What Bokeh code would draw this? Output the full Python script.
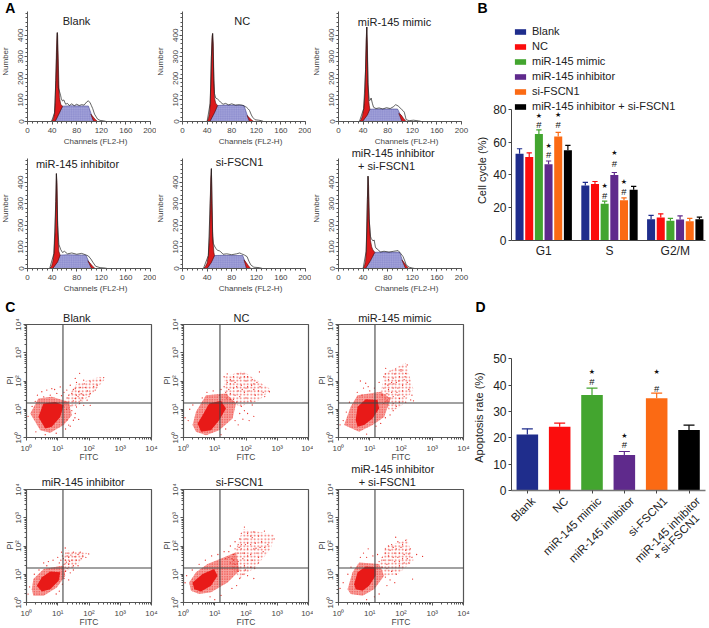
import math
from bokeh.plotting import figure
from bokeh.layouts import row, column
from bokeh.models import Label, Span, FixedTicker, Legend, LegendItem, Range1d
from bokeh.core.properties import value
from bokeh.embed import file_html
from bokeh.resources import INLINE

FONT = "Liberation Sans"
RED = "#dc1a1c"

# ---------- Panel A: (channel, count) outlines ----------
blank_g1 = [(39,0),(42,12),(44,40),(45,90),(46,190),(47,320),(48,405),(48.5,412),(49,400),(50,290),(51,170),(52,110),(54,80),(57,71),(52,40),(45,0)]
blank_s = [(45,0),(50,32),(57,71),(70,73),(85,72),(99,72),(103,40),(107.6,0)]
blank_g2 = [(103,34),(106,24),(110,10),(114,0),(107.6,0)]
blank_raw = [(39,0),(44,40),(46,190),(48.5,412),(50,157),(52,140),(54,119),(55,105),(57,95),(59,100),(62,80),(65,84),(68,74),(72,82),(76,73),(80,80),(84,74),(88,78),(92,76),(96,90),(99,96),(102,86),(104,73),(106,60),(109,34),(112,20),(114,11),(118,5),(124,3),(128,0)]

nc_g1 = [(40,0),(42,12),(44,40),(45,85),(46,170),(47,300),(48,395),(49,408),(50,360),(51,200),(52,110),(54,85),(57,74),(52,40),(44.5,0)]
nc_s = [(44.5,0),(50,34),(57,74),(70,76),(85,75),(100,74),(104,40),(109,0)]
nc_g2 = [(105,28),(108,20),(112,8),(116,0),(109,0)]
nc_raw = [(40,0),(45,85),(47,300),(49,408),(51,190),(52,130),(54,109),(57,104),(60,96),(62,89),(66,80),(70,84),(75,77),(80,82),(86,76),(92,78),(97,76),(100,72),(104,66),(107,58),(109,51),(112,30),(114,20),(118,8),(124,6),(128,4),(132,0)]

mimic_g1 = [(34,0),(37,10),(39,28),(41,60),(43,130),(44,240),(45,380),(46,438),(47,350),(48,180),(49,100),(50,75),(51,57),(47,30),(39,0)]
mimic_s = [(39,0),(45,28),(51,57),(65,58),(80,58),(96,58),(101,30),(107,0)]
mimic_g2 = [(98,38),(102,30),(106,14),(110,0),(103,0)]
mimic_raw = [(34,0),(41,60),(44,240),(46,438),(48,170),(50,97),(52,100),(53,109),(55,85),(57,66),(61,60),(66,63),(72,58),(78,64),(84,60),(89,68),(93,78),(97,72),(102,58),(105,50),(107,43),(109,20),(110,8),(115,4),(122,6),(130,3),(135,0)]

inhib_g1 = [(36,0),(39,10),(41,30),(43,70),(45,170),(46,310),(47,440),(48,400),(49,220),(50,120),(51,80),(53,62),(49,30),(41,0)]
inhib_s = [(41,0),(47,30),(53,62),(65,64),(80,63),(95,62),(100,30),(106,0)]
inhib_g2 = [(98,36),(102,24),(106,10),(110,0),(104,0)]
inhib_raw = [(36,0),(43,70),(46,310),(47,440),(49,200),(51,112),(54,88),(57,74),(60,80),(65,68),(72,72),(80,66),(88,70),(94,64),(99,58),(103,44),(107,26),(111,10),(118,4),(126,2),(130,0)]

sifscn_g1 = [(34,0),(37,8),(40,25),(42,60),(44,150),(45,300),(46,420),(47,463),(48,300),(49,170),(50,110),(51,75),(52,60),(47,28),(40,0)]
sifscn_s = [(40,0),(46,30),(52,60),(65,61),(80,60),(98,60),(102,30),(107,0)]
sifscn_g2 = [(100,40),(103,30),(107,14),(111,0),(104,0)]
sifscn_raw = [(34,0),(42,60),(45,300),(47,463),(49,150),(50,117),(52,104),(54,94),(57,84),(60,82),(62,78),(66,66),(72,68),(80,64),(88,68),(93,72),(96,68),(101,62),(105,55),(108,34),(111,17),(116,6),(125,4),(130,0)]

combo_g1 = [(40,0),(42,10),(44,35),(45,80),(46,170),(47,320),(48,428),(49,380),(50,230),(52,130),(54,100),(56,86),(59,75),(52,36),(44,0)]
combo_s = [(44,0),(50,34),(59,75),(72,76),(85,75),(99.5,75),(104,38),(110,0)]
combo_g2 = [(103,40),(106,30),(110,14),(114,0),(109,0)]
combo_raw = [(40,0),(45,80),(47,320),(48,428),(50,220),(52,150),(53,140),(56,128),(58,132),(60,100),(61,94),(65,86),(68,76),(74,80),(82,76),(90,80),(97,83),(101,70),(105,55),(108,34),(110,17),(115,6),(120,2),(124,0)]

# ---------- Panel B values ----------
phases = ["G1", "S", "G2/M"]
groups = ["Blank", "NC", "miR-145 mimic", "miR-145 inhibitor", "si-FSCN1", "miR-145 inhibitor + si-FSCN1"]
colors = ["#1f2d8c", "#fb0d0d", "#43a52f", "#5f2a8c", "#fb6a14", "#000000"]
cc_blank = [53.0, 33.5, 13.0]
cc_nc = [51.0, 34.5, 14.0]
cc_mimic = [65.0, 22.5, 12.0]
cc_inhib = [46.5, 40.0, 12.8]
cc_si = [63.5, 24.5, 11.8]
cc_combo = [55.0, 31.0, 13.0]
cc_blank_err = [56.0, 35.5, 15.3]
cc_nc_err = [53.5, 36.0, 16.3]
cc_mimic_err = [67.5, 24.0, 13.5]
cc_inhib_err = [48.5, 41.5, 15.0]
cc_si_err = [66.0, 26.0, 13.5]
cc_combo_err = [58.0, 33.0, 14.3]
# (phase, series, height of star, height of hash)
cc_marks = [(0,2,75.9,70.7),(0,3,57.7,52.6),(0,4,76.3,70.9),(1,2,33.1,27.2),(1,3,53.2,46.9),(1,4,35.9,29.6)]

# ---------- Panel D values ----------
apo_labels = ["Blank", "NC", "miR-145 mimic", "miR-145 inhibitor", "si-FSCN1", "miR-145 inhibitor\n+ si-FSCN1"]
apo_vals = [21.3, 24.2, 36.3, 13.5, 35.0, 23.0]
apo_err = [23.4, 25.6, 38.9, 14.8, 37.0, 24.8]
apo_marks = [(2,45.0,41.3),(3,20.8,17.3),(4,45.0,38.9)]

# ---------- Panel C: log10 decades; dense core, halo, arm and sparse events (x*100, y*100) ----------
c1_core = [(38,73),(54,120),(92,126),(119,114),(108,73),(81,38),(60,32)]
c1_halo = [(12,85),(38,138),(81,144),(135,126),(145,79),(119,44),(76,17),(44,26)]
c1_arm = [(120,125),(160,190),(235,215),(250,205),(215,160),(165,115),(130,100)]
c1_pts = [(247,212),(170,227),(156,209),(183,203),(204,197),(236,203),(226,185),(172,177),(188,177),(156,173),(140,185),(129,168),(145,156),(167,162),(183,150),(204,156),(220,168),(194,132),(174,132),(156,138),(204,114),(183,114),(160,108),(156,85),(167,64),(150,61),(135,44),(49,162),(65,168),(81,173),(55,144),(76,150),(97,156),(108,179),(35,150),(120,160),(150,130),(165,145),(175,155),(195,165),(215,180),(135,150),(150,170),(185,190),(160,195),(130,140),(170,120),(145,95),(155,70),(130,62),(125,30),(95,15),(60,10),(30,20),(5,75),(18,110),(28,128),(140,40),(112,148),(90,170),(200,145),(160,150),(178,140),(142,112),(128,100)]

c2_core = [(45,50),(61,79),(82,120),(120,130),(136,103),(114,61),(88,26),(56,20)]
c2_halo = [(29,44),(40,91),(72,150),(136,156),(168,120),(157,67),(114,26),(72,8),(40,20)]
c2_arm = [(130,140),(130,215),(190,235),(280,170),(240,130),(180,110)]
c2_pts = [(195,215),(243,232),(275,162),(225,190),(150,205),(140,225),(160,215),(180,210),(200,200),(220,205),(150,190),(165,195),(185,185),(205,180),(225,170),(245,180),(130,180),(145,170),(160,175),(175,165),(195,160),(210,165),(230,150),(255,160),(235,195),(175,225),(130,215),(150,155),(165,150),(180,145),(200,140),(215,130),(170,125),(185,110),(195,95),(180,85),(165,60),(175,45),(205,85),(225,75),(115,150),(95,165),(75,160),(60,140),(20,100),(5,70),(15,60),(30,115),(120,10),(135,30),(190,65),(210,60),(140,195),(190,225),(205,215),(240,165),(260,145),(160,135),(150,135),(120,170),(135,160),(220,115),(188,170),(170,180),(155,200),(200,175),(218,185)]

c3_core = [(55,62),(61,109),(87,135),(125,133),(130,103),(109,67),(82,44),(61,38)]
c3_halo = [(18,44),(39,109),(61,150),(135,162),(167,138),(146,73),(109,44),(66,20)]
c3_arm = [(135,150),(145,225),(215,265),(240,170),(200,110),(165,90)]
c3_pts = [(220,257),(215,227),(151,245),(165,235),(180,225),(200,235),(195,215),(210,205),(175,210),(160,205),(145,215),(130,195),(150,190),(165,190),(185,195),(205,185),(220,195),(190,175),(175,175),(160,170),(145,175),(155,155),(170,160),(205,165),(225,170),(235,150),(210,145),(190,150),(175,145),(165,140),(231,133),(215,125),(195,125),(185,110),(175,95),(165,80),(150,70),(135,50),(87,192),(80,175),(95,180),(70,200),(100,165),(115,175),(75,150),(60,160),(5,45),(15,60),(25,90),(35,125),(120,40),(90,12),(175,120),(155,130),(140,150),(200,240),(183,243),(170,195),(193,200),(213,215),(150,225),(187,160),(158,185),(240,130),(145,120),(195,138),(177,190)]

c4_core = [(33,59),(49,89),(76,110),(108,107),(103,77),(76,47),(49,39)]
c4_halo = [(17,47),(22,83),(55,119),(119,131),(124,95),(97,53),(55,24),(22,24)]
c4_arm = [(115,125),(125,185),(195,175),(160,130),(125,110)]
c4_pts = [(199,172),(124,193),(150,178),(165,170),(180,165),(130,175),(115,165),(135,160),(145,150),(160,150),(175,155),(190,160),(125,150),(110,150),(100,160),(85,150),(70,145),(120,135),(135,135),(150,130),(165,130),(130,120),(150,115),(125,110),(140,105),(120,85),(135,80),(115,65),(105,40),(95,30),(55,140),(65,130),(40,115),(25,100),(10,55),(5,30),(130,165),(155,162),(172,178),(142,168),(112,178),(105,140),(128,143),(118,155),(138,146)]

c5_core = [(29,71),(61,101),(98,119),(109,95),(88,59),(56,39),(34,47)]
c5_halo = [(18,71),(40,107),(77,136),(130,160),(168,178),(179,113),(141,71),(88,36),(50,30),(24,42)]
c5_arm = [(150,130),(190,260),(290,240),(280,190),(230,125),(180,85)]
c5_pts = [(259,253),(195,267),(185,245),(205,245),(225,250),(240,235),(220,230),(200,225),(180,225),(165,215),(185,205),(205,210),(230,210),(250,215),(270,205),(290,225),(245,195),(225,190),(205,190),(185,190),(165,190),(150,200),(145,180),(160,170),(175,175),(195,175),(215,170),(235,175),(255,180),(205,150),(190,155),(220,150),(240,160),(175,145),(165,135),(195,130),(215,125),(190,100),(205,95),(225,85),(180,85),(170,60),(155,50),(120,25),(100,10),(85,20),(5,70),(10,95),(28,115),(50,135),(70,150),(90,165),(110,170),(130,180),(145,160),(160,150),(178,195),(198,205),(215,205),(232,192),(260,195),(215,235),(175,205),(155,155),(190,175),(205,165),(150,140),(135,155),(240,140),(228,120),(175,110),(198,115)]

c6_core = [(50,65),(61,107),(87,127),(119,125),(119,95),(98,59),(77,42),(55,47)]
c6_halo = [(29,47),(45,107),(66,142),(130,136),(146,95),(114,47),(77,24),(39,30)]
c6_arm = [(130,130),(150,195),(220,225),(240,150),(190,100),(145,95)]
c6_pts = [(183,231),(215,220),(269,163),(237,83),(190,215),(170,205),(150,190),(165,185),(185,190),(200,195),(215,185),(230,190),(180,175),(195,175),(210,170),(225,172),(160,165),(175,160),(190,160),(205,155),(220,155),(235,160),(250,170),(165,150),(180,145),(195,145),(210,140),(225,140),(145,150),(130,145),(150,175),(95,190),(80,175),(90,160),(70,160),(110,165),(125,170),(155,120),(170,110),(185,100),(150,90),(165,80),(180,70),(155,60),(130,30),(115,20),(90,10),(5,50),(15,70),(30,100),(40,125),(140,160),(160,200),(205,205),(175,195),(195,130),(155,135),(140,125)]

decade_ticks = [1, 10, 100, 1000, 10000]
decade_labels = {1: "10⁰", 10: "10¹", 100: "10²", 1000: "10³", 10000: "10⁴"}
minor_log = [m * d for d in [1, 10, 100, 1000] for m in range(2, 10)]

# Text layer: a transparent figure over the page, whose scale is the page itself.
over = figure(width=709, height=628, x_range=Range1d(0, 709), y_range=Range1d(628, 0), output_backend="svg",
              toolbar_location=None, min_border=0, background_fill_color=None, border_fill_color=None,
              x_axis_location=None, y_axis_location=None)
over.grid.visible = False
over.outline_line_color = None


def put(px, py, text, size="11px", bold=False, color="#222222", angle=0, align="center"):
    over.add_layout(Label(x=px, y=py, text=text, text_font=FONT, text_font_size=size, text_align=align,
                          text_baseline="middle", text_color=color,
                          text_font_style="bold" if bold else "normal", angle=angle))


def base_fig(w, h, l, r, t, b, xr, yr, **kw):
    p = figure(width=w, height=h, x_range=xr, y_range=yr, output_backend="svg", toolbar_location=None,
               min_border_left=l, min_border_right=r, min_border_top=t, min_border_bottom=b,
               background_fill_color=None, border_fill_color=None, **kw)
    p.grid.visible = False
    p.outline_line_color = None
    return p


def hist(w, h, l, r, t, b, g1, s, g2, raw, frame_left, page_bottom, titles):
    p = base_fig(w, h, l, r, t, b, Range1d(0, 200), Range1d(0, 510))
    xs = lambda pts: [q[0] for q in pts]
    ys = lambda pts: [q[1] for q in pts]
    p.patch(xs(s), ys(s), fill_color="#a4a4da", line_color="#303080", line_width=0.5,
            hatch_pattern="cross", hatch_color="#5a5ab4", hatch_scale=1.8, hatch_weight=0.4)
    p.patch(xs(g1), ys(g1), fill_color=RED, line_color="#4a0c0c", line_width=0.6)
    p.patch(xs(g2), ys(g2), fill_color=RED, line_color="#4a0c0c", line_width=0.5)
    p.line(xs(raw), ys(raw), line_color="#222222", line_width=0.7)
    ax, ay = p.xaxis[0], p.yaxis[0]
    ax.ticker = FixedTicker(ticks=[0, 40, 80, 120, 160, 200], minor_ticks=list(range(0, 201, 8)))
    ay.ticker = FixedTicker(ticks=[0, 100, 200, 300, 400], minor_ticks=list(range(0, 501, 20)))
    ay.major_label_orientation = "vertical"
    for a in (ax, ay):
        a.axis_line_color = "#555555"
        a.major_tick_line_color = "#555555"
        a.minor_tick_line_color = "#555555"
        a.major_tick_out = 3
        a.major_tick_in = 0
        a.minor_tick_out = 2
        a.minor_tick_in = 0
        a.major_label_text_font = FONT
        a.major_label_text_font_size = "8px"
        a.major_label_text_color = "#444444"
        a.major_label_standoff = 1
    ax.major_label_standoff = 3
    put(frame_left + 68, page_bottom + 19.5, "Channels (FL2-H)", size="8px", color="#444444")
    put(frame_left - 22, page_bottom - 60, "Number", size="8px", color="#444444", angle=math.pi / 2)
    for (px, py, txt) in titles:
        put(px, py, txt)
    return p


def flow(w, h, l, r, t, b, core, halo, arm, pts, cross, frame_left, page_bottom, titles):
    p = base_fig(w, h, l, r, t, b, Range1d(1, 10000), Range1d(1, 10000), x_axis_type="log", y_axis_type="log")
    d = lambda seq, i: [10 ** (q[i] / 100) for q in seq]
    p.patch(d(arm, 0), d(arm, 1), fill_color=None, line_color=None,
            hatch_pattern="dot", hatch_color="#f0443c", hatch_scale=3.5, hatch_weight=0.8, hatch_alpha=0.8)
    p.patch(d(halo, 0), d(halo, 1), fill_color="#ee3028", fill_alpha=0.45, line_color=None,
            hatch_pattern="dot", hatch_color="#ee2a24", hatch_scale=2.5, hatch_weight=0.9)
    p.patch(d(core, 0), d(core, 1), fill_color="#e81a18", line_color=None)
    p.scatter(d(pts, 0), d(pts, 1), size=1.3, color="#e8332c", line_color=None)
    p.add_layout(Span(location=10 ** cross[0], dimension="height", line_color="#444444", line_width=1.1))
    p.add_layout(Span(location=10 ** cross[1], dimension="width", line_color="#444444", line_width=1.1))
    p.outline_line_color = "#555555"
    p.outline_line_width = 1.2
    ax, ay = p.xaxis[0], p.yaxis[0]
    ay.major_label_orientation = "vertical"
    for a in (ax, ay):
        a.ticker = FixedTicker(ticks=decade_ticks, minor_ticks=minor_log)
        a.major_label_overrides = decade_labels
        a.axis_line_color = "#555555"
        a.major_tick_line_color = "#555555"
        a.minor_tick_line_color = "#555555"
        a.major_tick_out = 3
        a.major_tick_in = 0
        a.minor_tick_out = 2
        a.minor_tick_in = 0
        a.major_label_text_font = FONT
        a.major_label_text_font_size = "8px"
        a.major_label_text_color = "#444444"
        a.major_label_standoff = 1
    ax.major_label_standoff = 3
    put(frame_left + 62.5, page_bottom + 19.7, "FITC", size="8.5px", color="#444444")
    put(frame_left - 16.7, page_bottom - 57, "PI", size="8.5px", color="#444444", angle=math.pi / 2)
    for (px, py, txt) in titles:
        put(px, py, txt)
    return p


a1 = hist(156, 146, 27, 6, 11, 25, blank_g1, blank_s, blank_g2, blank_raw, 27, 121, [(76, 20.7, "Blank")])
a2 = hist(155, 146, 26, 6, 11, 25, nc_g1, nc_s, nc_g2, nc_raw, 182, 121, [(241.7, 20.7, "NC")])
a3 = hist(159, 146, 27, 9, 11, 25, mimic_g1, mimic_s, mimic_g2, mimic_raw, 338, 121, [(394, 21, "miR-145 mimic")])
a4 = hist(156, 152, 27, 6, 12, 30, inhib_g1, inhib_s, inhib_g2, inhib_raw, 27, 268, [(77, 163, "miR-145 inhibitor")])
a5 = hist(155, 152, 26, 6, 12, 30, sifscn_g1, sifscn_s, sifscn_g2, sifscn_raw, 182, 268, [(239, 161, "si-FSCN1")])
a6 = hist(159, 152, 27, 9, 12, 30, combo_g1, combo_s, combo_g2, combo_raw, 338, 268, [(392.7, 152, "miR-145 inhibitor"), (386, 165, "+ si-FSCN1")])

c1 = flow(158, 162, 26, 7, 26, 23, c1_core, c1_halo, c1_arm, c1_pts, (1.167, 1.22), 26, 437, [(76.3, 317.3, "Blank")])
c2 = flow(155, 162, 25, 5, 26, 23, c2_core, c2_halo, c2_arm, c2_pts, (1.167, 1.22), 183, 437, [(241, 317.3, "NC")])
c3 = flow(157, 162, 25, 7, 26, 23, c3_core, c3_halo, c3_arm, c3_pts, (1.167, 1.22), 338, 437, [(394.3, 317.3, "miR-145 mimic")])
c4 = flow(158, 168, 26, 7, 29, 26, c4_core, c4_halo, c4_arm, c4_pts, (1.167, 1.22), 26, 602, [(82.7, 481.3, "miR-145 inhibitor")])
c5 = flow(155, 168, 25, 5, 29, 26, c5_core, c5_halo, c5_arm, c5_pts, (1.167, 1.22), 183, 602, [(239, 481.3, "si-FSCN1")])
c6 = flow(157, 168, 25, 7, 29, 26, c6_core, c6_halo, c6_arm, c6_pts, (1.167, 1.22), 338, 602, [(392.3, 468.3, "miR-145 inhibitor"), (386.7, 481.3, "+ si-FSCN1")])

for (lx, ly, letter) in [(9.7, 7.5, "A"), (482, 7.5, "B"), (9.7, 306.7, "C"), (480, 306, "D")]:
    put(lx, ly, letter, size="14px", bold=True, color="#000000")


def style_bar_axis(a, size="12px"):
    a.axis_line_color = "#444444"
    a.major_tick_line_color = "#444444"
    a.minor_tick_line_color = None
    a.major_tick_out = 3
    a.major_tick_in = 0
    a.major_label_text_font = FONT
    a.major_label_text_font_size = size
    a.major_label_text_color = "#222222"
    a.major_label_standoff = 2


# ---------- B ----------
B_W = 0.122
B_PITCH = 0.147
pb = base_fig(239, 298, 41, 4, 25, 58, Range1d(-0.49, 2.46), Range1d(0, 131.2))
cc_series = [cc_blank, cc_nc, cc_mimic, cc_inhib, cc_si, cc_combo]
cc_errors = [cc_blank_err, cc_nc_err, cc_mimic_err, cc_inhib_err, cc_si_err, cc_combo_err]
items = []
for i, (vals, errs, col, name) in enumerate(zip(cc_series, cc_errors, colors, groups)):
    xs = [k + (i - 2.5) * B_PITCH for k in range(3)]
    pb.segment(xs, vals, xs, errs, line_color=col, line_width=1.2)
    pb.segment([x - B_W * 0.33 for x in xs], errs, [x + B_W * 0.33 for x in xs], errs, line_color=col, line_width=1.2)
    r = pb.vbar(x=xs, top=vals, width=B_W, fill_color=col, line_color=None)
    items.append(LegendItem(label=name, renderers=[r]))
star_x = [m[0] + (m[1] - 2.5) * B_PITCH for m in cc_marks]
pb.text(star_x, [m[2] for m in cc_marks], text=["★"] * len(cc_marks), text_font=value("DejaVu Sans"),
        text_font_size="7px", text_align="center", text_baseline="middle", text_color="#111111")
pb.text(star_x, [m[3] for m in cc_marks], text=["#"] * len(cc_marks), text_font=value(FONT),
        text_font_size="9.5px", text_align="center", text_baseline="middle", text_color="#111111")
legend = Legend(items=items, location=(2, 128), border_line_color=None, background_fill_color=None,
                padding=0, margin=0, spacing=3, glyph_width=14, glyph_height=7, label_height=11,
                label_standoff=5, label_text_font=FONT, label_text_font_size="11px", label_text_color="#222222")
pb.add_layout(legend)
style_bar_axis(pb.xaxis[0])
style_bar_axis(pb.yaxis[0])
pb.xaxis[0].ticker = FixedTicker(ticks=[0, 1, 2])
pb.xaxis[0].major_label_overrides = {k: v for k, v in enumerate(phases)}
pb.xaxis[0].major_tick_out = 0
pb.xaxis[0].major_label_standoff = 3
pb.yaxis[0].ticker = FixedTicker(ticks=[0, 20, 40, 60, 80])
pb.yaxis[0].bounds = (0, 80)
put(481, 170, "Cell cycle (%)", angle=math.pi / 2)

# ---------- D ----------
D_X = list(range(6))
pd_ = base_fig(239, 330, 39, 2, 52, 138, Range1d(-0.49, 5.51), Range1d(0, 53.15))
pd_.segment(D_X, apo_vals, D_X, apo_err, line_color=colors, line_width=1.2)
pd_.segment([x - 0.17 for x in D_X], apo_err, [x + 0.17 for x in D_X], apo_err, line_color=colors, line_width=1.2)
pd_.vbar(x=D_X, top=apo_vals, width=0.667, fill_color=colors, line_color=None)
pd_.text([m[0] for m in apo_marks], [m[1] for m in apo_marks], text=["★"] * 3, text_font=value("DejaVu Sans"),
         text_font_size="7px", text_align="center", text_baseline="middle", text_color="#111111")
pd_.text([m[0] for m in apo_marks], [m[2] for m in apo_marks], text=["#"] * 3, text_font=value(FONT),
         text_font_size="9.5px", text_align="center", text_baseline="middle", text_color="#111111")
style_bar_axis(pd_.xaxis[0], "11.5px")
style_bar_axis(pd_.yaxis[0], "12px")
pd_.xaxis[0].axis_line_color = "#777777"
pd_.xaxis[0].axis_line_width = 1.5
pd_.xaxis[0].ticker = FixedTicker(ticks=D_X)
pd_.xaxis[0].major_label_overrides = {k: "" for k in D_X}
pd_.xaxis[0].major_label_standoff = 0
for k, lab in enumerate(apo_labels):
    for j, line in enumerate(lab.split("\n")):
        put(525.7 + 33 * k + 7 - j, 498.5 + 17 * j, line, size="11.5px", angle=math.pi / 4, align="right")
pd_.yaxis[0].ticker = FixedTicker(ticks=[0, 10, 20, 30, 40, 50])
pd_.yaxis[0].bounds = (0, 50)
put(478, 417, "Apoptosis rate (%)", angle=math.pi / 2)

left = column(row(a1, a2, a3, spacing=0), row(a4, a5, a6, spacing=0),
              row(c1, c2, c3, spacing=0), row(c4, c5, c6, spacing=0), spacing=0)
right = column(pb, pd_, spacing=0)
base = row(left, right, spacing=0)
base.styles = {"position": "absolute", "left": "0px", "top": "0px"}
over.styles = {"position": "absolute", "left": "0px", "top": "0px"}

open("out.html", "w").write(file_html([base, over], INLINE))
